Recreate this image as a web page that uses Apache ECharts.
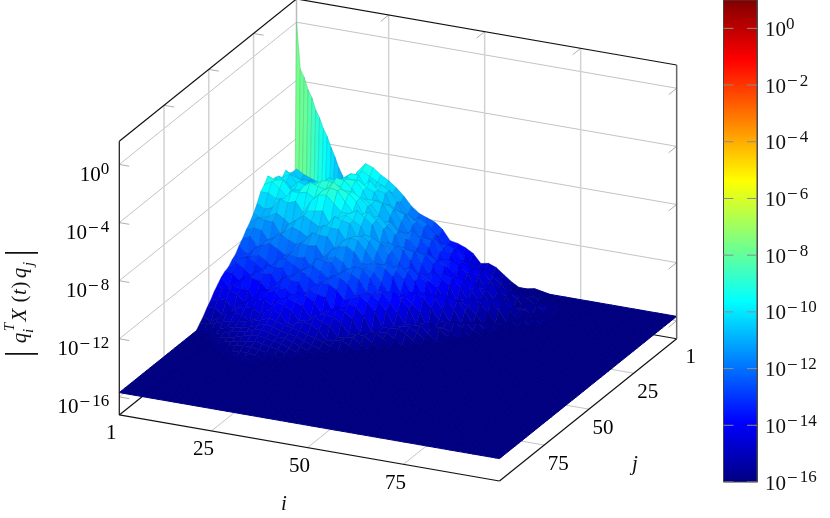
<!DOCTYPE html>
<html><head><meta charset="utf-8">
<script src="https://cdn.jsdelivr.net/npm/echarts@6/dist/echarts.min.js"></script>
<style>html,body{margin:0;background:#fff}#c{width:830px;height:518px}</style></head>
<body><div id="c"></div>
<script>
// ---- data: log10 of |q_i^T X(t) q_j| ----
const floorLog = -15.7;
const gridI = [1,3,5,7,9,11,13,15,17,19,21,23,25,27,29,31,33,35,37,39,41,43,45,47,49,51,53,55,57,59,61,63,65,67,69,71,73,75,77,79,81,83,85,87,89,91,93,95,97,99,100];
const gridJ = gridI;
// one row per gridJ value, columns follow gridI; values past a row's end sit on the floor
const logZRows = [
[-10.1,-10.4,-10.6,-10.8,-11,-11,-10.9,-10.4,-9.5,-8.9,-9.1,-9.5,-9.8,-10.2,-10.7,-11.3,-11.7,-11.9,-12.1,-12.5,-13.2,-13.3,-13.5,-13.8,-14.4,-14.3,-14.5,-14.9,-15.3,-15.6,-15.6,-15.5,-15.6],
[-10.1,-10.6,-10.7,-10.9,-11.1,-11.1,-10.8,-10.3,-9.8,-9.2,-9.5,-9.8,-10.1,-10.4,-10.9,-11.6,-12,-12.2,-12.5,-12.8,-13.4,-13.6,-13.8,-14.2,-14.6,-14.6,-14.8,-15.1,-15.4,-15.6,-15.6,-15.6],
[-10,-10.4,-10.2,-10.3,-10.7,-11,-10.4,-9.7,-9.3,-9.3,-10.1,-10,-9.7,-10,-10.7,-11.7,-11.8,-11.5,-11.9,-12.5,-13.4,-13.3,-13.2,-13.6,-14.2,-14.6,-14.6,-14.6,-14.9,-15.2,-15.7,-15.7,-15.3],
[-9.6,-9.9,-10.1,-10,-11.1,-10.5,-9.6,-9.8,-9.3,-9.7,-9.8,-9.3,-9.9,-10,-11.2,-11.1,-11.2,-11.6,-11.9,-13,-12.8,-12.8,-13,-13.7,-14.5,-14.3,-14,-14.5,-14.8,-15.5,-15.4,-15.3,-15.3,-15.5],
[-9.9,-9.6,-10.2,-10.9,-10.1,-10,-9.4,-9.5,-10.2,-9.2,-9.2,-9.6,-9.8,-10.8,-10.5,-10.8,-11,-11.6,-12.6,-12.4,-12.3,-12.9,-13.1,-14.1,-13.9,-13.9,-13.9,-14.5,-15.2,-15.2,-15,-15.2,-15.3,-15.7,-15.7,-15.4],
[-9.6,-9.9,-10.4,-10.3,-9.8,-9.5,-9.8,-9.8,-9.6,-9,-9,-9.6,-10.6,-10.1,-10.3,-10.5,-11.3,-12.1,-12.1,-12.1,-12.2,-12.9,-13.6,-13.7,-13.4,-13.8,-14.1,-15,-14.8,-14.7,-14.8,-15.2,-15.7,-15.6,-15.2,-15.3],
[-9.5,-10.2,-10.1,-9.5,-9.7,-9.5,-10.1,-9.5,-8.8,-8.9,-9.3,-10.1,-9.9,-9.9,-10,-10.8,-11.7,-11.8,-11.5,-12,-12.5,-13.4,-13.1,-13.1,-13.4,-13.8,-14.6,-14.5,-14.3,-14.6,-14.9,-15.7,-15.4,-15.1,-15.2,-15.4,-15.7],
[-9.6,-9.8,-9.8,-9.9,-9.8,-10.5,-9.7,-9,-9,-9.1,-10,-10,-9.7,-10,-10.6,-11.5,-11.6,-11.5,-12,-12.4,-13.3,-13.4,-13,-13.4,-13.7,-14.7,-14.4,-14.4,-14.5,-15,-15.7,-15.5,-15.3,-15.4,-15.6,-15.7,-15.7],
[-9,-9.2,-9.1,-9.7,-10.2,-9.4,-9.1,-8.7,-8.6,-9.1,-9.1,-9.1,-9.4,-9.9,-10.7,-10.8,-10.7,-11.3,-11.7,-12.8,-12.5,-12.5,-12.8,-13.1,-14.1,-13.8,-13.8,-13.9,-14.5,-15.2,-15.1,-14.7,-15,-15.3,-15.7,-15.7,-15.3],
[-9.4,-9.1,-9.5,-10,-9.8,-9.1,-8.7,-8.9,-9,-8.4,-8.8,-9,-9.5,-10.4,-10.4,-10.2,-10.8,-11.3,-12.4,-12.2,-12.2,-12.4,-12.9,-13.8,-13.5,-13.5,-13.6,-14.2,-14.9,-14.8,-14.5,-14.8,-15.1,-15.7,-15.6,-15.3],
[-9.7,-9.7,-10,-9.9,-9.3,-9.3,-9.2,-9.5,-8.9,-8.6,-8.7,-9.4,-10,-10.1,-9.8,-10.3,-10.8,-12,-11.8,-11.9,-12,-12.7,-13.4,-13.4,-13.1,-13.4,-13.9,-14.7,-14.6,-14.4,-14.6,-15,-15.7,-15.6,-15.3],
[-10.3,-10.6,-10.4,-9.7,-9.9,-9.7,-10.4,-9.5,-9,-8.9,-9.4,-9.9,-9.9,-9.6,-10,-10.4,-11.6,-11.4,-11.6,-11.8,-12.4,-13.2,-13.2,-12.9,-13.3,-13.6,-14.6,-14.4,-14.3,-14.5,-15,-15.7,-15.6,-15.3],
[-10.8,-11,-10.8,-10.5,-10.8,-11.2,-10.6,-10,-9.9,-9.8,-10.7,-10.1,-9.8,-10.1,-10.4,-11.5,-11.4,-11.5,-11.7,-12.4,-13.2,-13.3,-13,-13.4,-13.7,-14.7,-14.5,-14.4,-14.6,-15.1,-15.7,-15.7,-15.6],
[-11.2,-10.8,-10.9,-10.9,-11.7,-10.9,-10.5,-10.1,-10.4,-10.7,-10.5,-9.8,-10,-10.1,-11,-10.7,-10.8,-11.1,-11.8,-12.6,-12.6,-12.4,-12.9,-13.2,-14.2,-13.9,-14,-14.1,-14.7,-15.5,-15.4,-15.2],
[-11.5,-11.3,-11.4,-12.1,-11.5,-11.2,-10.8,-11,-11.3,-11,-10.3,-10.4,-10.4,-11.1,-10.7,-10.6,-10.9,-11.5,-12.3,-12.4,-12.1,-12.6,-13,-14,-13.7,-13.8,-13.9,-14.5,-15.4,-15.3,-15.1,-15.5],
[-11.9,-11.7,-12.4,-11.8,-11.5,-11.2,-11.5,-11.7,-11.4,-10.7,-10.8,-10.8,-11.5,-10.9,-10.6,-10.7,-11.3,-12,-12.1,-11.9,-12.3,-12.8,-13.8,-13.5,-13.6,-13.7,-14.4,-15.2,-15.2,-15,-15.5],
[-12.2,-12.7,-12.2,-11.9,-11.7,-12,-12.3,-12,-11.3,-11.4,-11.3,-12,-11.4,-11.1,-11,-11.3,-12,-11.9,-11.8,-12.1,-12.5,-13.6,-13.4,-13.4,-13.6,-14.2,-15,-15,-14.9,-15.2],
[-12.6,-12.9,-12.6,-12.4,-12.7,-13.1,-12.7,-12,-12.1,-12,-12.7,-12.1,-11.8,-11.6,-11.9,-12.5,-12.2,-12,-12.2,-12.8,-13.6,-13.7,-13.5,-13.9,-14.4,-15.4,-15.2,-15.2,-15.4,-15.7],
[-12.8,-12.6,-12.4,-12.7,-13.1,-12.8,-12.2,-12.1,-12.4,-12.7,-12.4,-11.7,-11.8,-11.8,-12.5,-12.1,-11.8,-11.9,-12.4,-13.2,-13.2,-13.1,-13.5,-14,-15,-14.9,-14.8,-15.1,-15.5],
[-13.1,-12.7,-13,-13.4,-13.1,-12.5,-12.6,-12.5,-13.2,-12.6,-12.3,-12,-12.3,-12.7,-12.4,-12,-12.1,-12.4,-13.2,-13.1,-13,-13.6,-14.2,-14.9,-14.9,-14.8,-15.3,-15.7],
[-13.2,-13.2,-13.7,-13.4,-12.8,-12.9,-12.8,-13.5,-12.9,-12.6,-12.3,-12.6,-13,-12.7,-12.2,-12.3,-12.6,-13.3,-13.1,-13,-13.4,-14,-14.9,-14.9,-14.8,-15.1,-15.5],
[-13.4,-14,-13.6,-13.1,-13.1,-13.2,-13.7,-13.3,-12.7,-12.8,-12.8,-13.5,-12.9,-12.6,-12.6,-12.9,-13.5,-13.3,-13,-13.4,-13.9,-14.9,-14.9,-14.8,-15.1,-15.5],
[-13.7,-14.1,-13.6,-13.7,-13.7,-14.4,-13.8,-13.3,-13.2,-13.2,-13.7,-13.5,-13,-13.2,-13.3,-14.2,-13.8,-13.5,-13.6,-14.1,-15.1,-15.1,-15,-15.3,-15.7],
[-14,-13.8,-13.7,-13.9,-14.4,-14,-13.4,-13.3,-13.3,-13.8,-13.3,-13.1,-13.2,-13.5,-14.2,-13.9,-13.6,-13.8,-14.2,-15.1,-15,-14.9,-15.2],
[-14.4,-14.2,-14.2,-14.7,-14.3,-13.9,-13.8,-13.7,-14,-13.5,-13.3,-13.5,-13.7,-14.4,-14.1,-14,-14.1,-14.4,-15.1,-15,-15,-15.4],
[-14.7,-14.6,-15,-14.7,-14.3,-14.2,-14.2,-14.5,-14,-13.5,-13.6,-13.9,-14.5,-14.4,-14.1,-14.3,-14.5,-15.2,-15.1,-15,-15.4],
[-15.1,-15.4,-15,-14.6,-14.5,-14.5,-14.9,-14.5,-14,-13.8,-14,-14.7,-14.5,-14.3,-14.4,-14.7,-15.3,-15.2,-15.1,-15.4],
[-15.4,-15.3,-15.2,-15,-14.9,-14.8,-14.7,-14.6,-14.4,-14.2,-14.3,-14.5,-14.6,-14.7,-14.9,-15,-15.2,-15.4,-15.6],
[-15.7,-15.5,-15.4,-15.3,-15.1,-15,-14.9,-14.8,-14.6,-14.4,-14.5,-14.7,-14.8,-14.9,-15.1,-15.3,-15.5],
[-15.7,-15.7,-15.6,-15.4,-15.3,-15.1,-15,-14.9,-14.7,-14.6,-14.7,-14.9,-14.9,-15.1,-15.3,-15.5],
[-15.7,-15.7,-15.7,-15.6,-15.4,-15.3,-15.2,-15,-14.9,-14.8,-14.9,-15,-15.1,-15.3,-15.5],
[-15.7,-15.7,-15.7,-15.7,-15.6,-15.4,-15.3,-15.2,-15.1,-15,-15.1,-15.2,-15.3,-15.5],
[-15.7,-15.7,-15.7,-15.7,-15.7,-15.5,-15.4,-15.3,-15.2,-15.2,-15.3,-15.4,-15.5,-15.6],
[-15.7,-15.7,-15.7,-15.7,-15.7,-15.7,-15.6,-15.5,-15.4,-15.4,-15.5,-15.6],
[-15.7,-15.7,-15.7,-15.7,-15.7,-15.7,-15.7,-15.6,-15.5,-15.5,-15.6],
[-15.7,-15.7,-15.7,-15.7,-15.7,-15.7,-15.7,-15.7,-15.7,-15.6,-15.6]
];
// the narrow blade at the back edge: every i from 1 to 15, at j=1 and j=2
const bladeI = [1,2,3,4,5,6,7,8,9,10,11,12,13,14,15];
const bladeJ1 = [0,-3.2,-3.7,-4.5,-5,-5.8,-6.3,-7,-7.5,-8.2,-8.8,-9.5,-10,-10.7,-10.6];
const bladeJ2 = [-14,-13,-11,-11.8,-11,-11.8,-11,-11.8,-11,-11.8,-11,-11.8,-11,-11.8,-11];
// axes
const iTicks = [1,25,50,75];
const jTicks = [1,25,50,75];
const zTicks = [-16,-12,-8,-4,0];
const barTicks = [-16,-14,-12,-10,-8,-6,-4,-2,0];
const colorMin = -16, colorMax = 1;
const jetStops = ['#000080','#0000ff','#00ffff','#ffff00','#ff0000','#800000'];
const jetOffsets = [0,0.125,0.375,0.625,0.875,1];
// pieces of the rotated z title: [text, italic, size, x, y]
const zTitleParts = [
  ['|',0,36,21,354],['q',1,21,20,338],['T',1,15,10,327],['i',1,15,29,331],['X',1,21,20,315],
  ['(',0,21,20,299],['t',1,21,20,292],[')',0,21,20,285],['q',1,21,20,273],['j',1,15,29,264],['|',0,36,21,253]
];

// ---- view of the box ----
const view = {ox:296.5, oy:272.7, ix:3.84, iy:0.667, jx:-1.79, jy:1.437, zs:14.53, zLo:-17.24, zHi:1.6};
const iMax = 100, jMax = 100;
function project(i,j,z){
  return [view.ox+view.ix*(i-1)+view.jx*(j-1),
          view.oy+view.iy*(i-1)+view.jy*(j-1)-view.zs*(z-view.zLo)];
}
function hexRgb(h){return [1,3,5].map(k=>parseInt(h.substr(k,2),16));}
// the surface's colour scale starts at its lowest value
function jet(v){
  let t=(v-floorLog)/(colorMax-floorLog); t=Math.max(0,Math.min(1,t));
  for(let k=1;k<jetOffsets.length;k++){
    if(t<=jetOffsets[k]){
      const f=(t-jetOffsets[k-1])/(jetOffsets[k]-jetOffsets[k-1]);
      const a=hexRgb(jetStops[k-1]),b=hexRgb(jetStops[k]);
      return a.map((c,n)=>c+(b[n]-c)*f);
    }
  }
  return hexRgb(jetStops[5]);
}
const css=(c,m)=>'rgb('+c.map(v=>Math.round(v*m)).join(',')+')';
const val=(ri,ci)=>{const r=logZRows[ri]; return r&&ci<r.length?r[ci]:floorLog;};

// ---- marks built from the arrays ----
const cells=[];
bladeI.slice(0,-1).forEach((v,n)=>{cells.push([v,bladeI[n+1],1,2,bladeJ1[n],bladeJ1[n+1],bladeJ2[n+1],bladeJ2[n]]);});
for(let r=0;r<gridJ.length-1;r++)for(let c=0;c<gridI.length-1;c++){
  cells.push([gridI[c],gridI[c+1],gridJ[r],gridJ[r+1],val(r,c),val(r,c+1),val(r+1,c+1),val(r+1,c)]);
}
// lines: [i0,j0,z0,i1,j1,z1,colour,width]
const gray='#c4c4c4', grayV='#d2d2d2', black='#111111';
const backLines=[];
zTicks.forEach(z=>{
  backLines.push([1,jMax,z,1,1,z,gray,1]);
  backLines.push([1,1,z,iMax,1,z,gray,1]);
  backLines.push([1,jMax,z,3.6,jMax,z,'#999999',0.8]);
  backLines.push([iMax,1,z,iMax,5.5,z,'#999999',0.8]);
});
iTicks.slice(1).forEach(t=>{
  backLines.push([t,1,view.zLo,t,1,view.zHi,grayV,1.5]);
  backLines.push([t,jMax,view.zLo,t,1,view.zLo,gray,1]);
  backLines.push([t,1,view.zHi,t,5.5,view.zHi,'#999999',0.8]);
});
jTicks.slice(1).forEach(t=>{
  backLines.push([1,t,view.zLo,1,t,view.zHi,grayV,1.5]);
  backLines.push([iMax,t,view.zLo,1,t,view.zLo,gray,1]);
  backLines.push([1,t,view.zHi,3.6,t,view.zHi,'#999999',0.8]);
});
backLines.push([1,1,view.zLo,1,1,view.zHi,'#bbbbbb',1.5]);
backLines.push([1,jMax,view.zLo,1,1,view.zLo,black,1.2]);
backLines.push([1,1,view.zLo,iMax,1,view.zLo,black,1.2]);
backLines.push([1,jMax,view.zHi,1,1,view.zHi,black,1.2]);
backLines.push([1,1,view.zHi,iMax,1,view.zHi,black,1.2]);
const frontLines=[
  [1,jMax,view.zLo,iMax,jMax,view.zLo,black,1.2],
  [iMax,jMax,view.zLo,iMax,1,view.zLo,black,1.2],
  [1,jMax,view.zLo,1,jMax,view.zHi,black,1.2],
  [iMax,1,view.zLo,iMax,1,view.zHi,'#666666',1.5]
];
// labels: [i,j,z,dx,dy,text,align]
const power=v=>v<0?'{b|10}{m|\u2212}{s|'+(-v)+'}':'{b|10}{s|'+v+'}';
const labels=[];
iTicks.forEach(t=>labels.push([t,jMax,view.zLo,-8,17,'{b|'+t+'}','center']));
jTicks.forEach(t=>labels.push([iMax,t,view.zLo,14,17,'{b|'+t+'}','center']));
zTicks.forEach(z=>labels.push([1,jMax,z,-10,9,power(z),'right']));

const lineSeries=(data,zl)=>({type:'custom',coordinateSystem:'cartesian2d',xAxisIndex:0,yAxisIndex:0,z:zl,silent:true,data,
  encode:{x:0,y:1},clip:false,
  renderItem:(p,api)=>{
    const a=project(api.value(0),api.value(1),api.value(2)), b=project(api.value(3),api.value(4),api.value(5));
    const A=api.coord(a),B=api.coord(b);
    return {type:'line',shape:{x1:A[0],y1:A[1],x2:B[0],y2:B[1]},
      style:{stroke:data[p.dataIndex][6],lineWidth:data[p.dataIndex][7]}};
  }});

const richText={
  b:{fontFamily:'"Liberation Serif"',fontSize:21,color:'#111',verticalAlign:'bottom',lineHeight:25},
  m:{fontFamily:'"Liberation Serif"',fontSize:19,color:'#111',verticalAlign:'top',lineHeight:25,padding:[0,2,0,1]},
  s:{fontFamily:'"Liberation Serif"',fontSize:17,color:'#111',verticalAlign:'top',lineHeight:25}
};
const option={
  animation:false,
  backgroundColor:'#fff',
  grid:[{left:0,top:0,width:830,height:518},{left:723.5,top:0,width:33.5,height:482}],
  xAxis:[{type:'value',min:0,max:830,show:false,gridIndex:0},{type:'value',min:0,max:1,show:false,gridIndex:1}],
  yAxis:[{type:'value',min:0,max:518,inverse:true,show:false,gridIndex:0},
    {type:'value',min:colorMin,max:colorMax,gridIndex:1,interval:2,position:'right',
     axisLine:{show:true,onZero:false,lineStyle:{color:'#555',width:1}},
     splitLine:{show:false},axisTick:{show:false},
     axisLabel:{margin:8,showMaxLabel:false,formatter:v=>v>0?'':power(v),rich:richText,color:'#111'}}],
  series:[
    lineSeries(backLines,1),
    {type:'custom',coordinateSystem:'cartesian2d',xAxisIndex:0,yAxisIndex:0,z:2,silent:true,clip:false,data:cells,
     encode:{x:0,y:2},
     renderItem:(p,api)=>{
       const v=n=>api.value(n);
       const i0=v(0),i1=v(1),j0=v(2),j1=v(3);
       const pts=[project(i0,j0,v(4)),project(i1,j0,v(5)),project(i1,j1,v(6)),project(i0,j1,v(7))].map(q=>api.coord(q));
       const mean=(v(4)+v(5)+v(6)+v(7))/4;
       const c=jet(mean);
       const flat=mean<-15.5;
       return {type:'polygon',shape:{points:pts},style:{fill:css(c,1),stroke:css(c,flat?1:0.8),lineWidth:flat?1:0.5}};
     }},
    lineSeries(frontLines,3),
    {type:'custom',coordinateSystem:'cartesian2d',xAxisIndex:0,yAxisIndex:0,z:4,silent:true,clip:false,data:labels,
     encode:{x:0,y:1},
     renderItem:(p,api)=>{
       const a=api.coord(project(api.value(0),api.value(1),api.value(2))), d=labels[p.dataIndex];
       return {type:'text',style:{x:a[0]+d[3],y:a[1]+d[4],text:d[5],rich:richText,align:d[6],verticalAlign:'middle'}};
     }},
    {type:'custom',coordinateSystem:'cartesian2d',xAxisIndex:1,yAxisIndex:1,z:1,silent:true,clip:false,data:[[0,colorMin,1,colorMax]],
     encode:{x:0,y:1},
     renderItem:(p,api)=>{
       const a=api.coord([0,colorMin]), b=api.coord([1,colorMax]);
       return {type:'rect',shape:{x:a[0],y:b[1],width:b[0]-a[0],height:a[1]-b[1]},
         style:{fill:{type:'linear',x:0,y:1,x2:0,y2:0,colorStops:jetOffsets.map((o,k)=>({offset:o,color:jetStops[k]}))},stroke:'#444',lineWidth:1}};
     }},
    {type:'custom',coordinateSystem:'cartesian2d',xAxisIndex:1,yAxisIndex:1,z:2,silent:true,clip:false,data:barTicks.map(t=>[t]),
     encode:{y:0},
     renderItem:(p,api)=>{
       const a=api.coord([0,api.value(0)]), b=api.coord([1,api.value(0)]);
       return {type:'group',children:[
         {type:'line',shape:{x1:a[0],y1:a[1],x2:a[0]+10,y2:a[1]},style:{stroke:'#8c8c8c',lineWidth:1}},
         {type:'line',shape:{x1:b[0]-10,y1:b[1],x2:b[0],y2:b[1]},style:{stroke:'#8c8c8c',lineWidth:1}}]};
     }}
  ],
  graphic:[
    {type:'text',x:284,y:504,style:{text:'i',font:'italic 21px "Liberation Serif"',fill:'#111',align:'center',verticalAlign:'middle'}},
    {type:'text',x:635,y:464,style:{text:'j',font:'italic 21px "Liberation Serif"',fill:'#111',align:'center',verticalAlign:'middle'}}
  ].concat(zTitleParts.map(t=>({type:'text',x:t[3],y:t[4],rotation:Math.PI/2,
    style:{text:t[0],font:(t[1]?'italic ':'')+t[2]+'px "Liberation Serif"',fill:'#111',align:'center',verticalAlign:'middle'}})))
};
echarts.init(document.getElementById('c'),null,{renderer:'canvas'}).setOption(option);
</script></body></html>
